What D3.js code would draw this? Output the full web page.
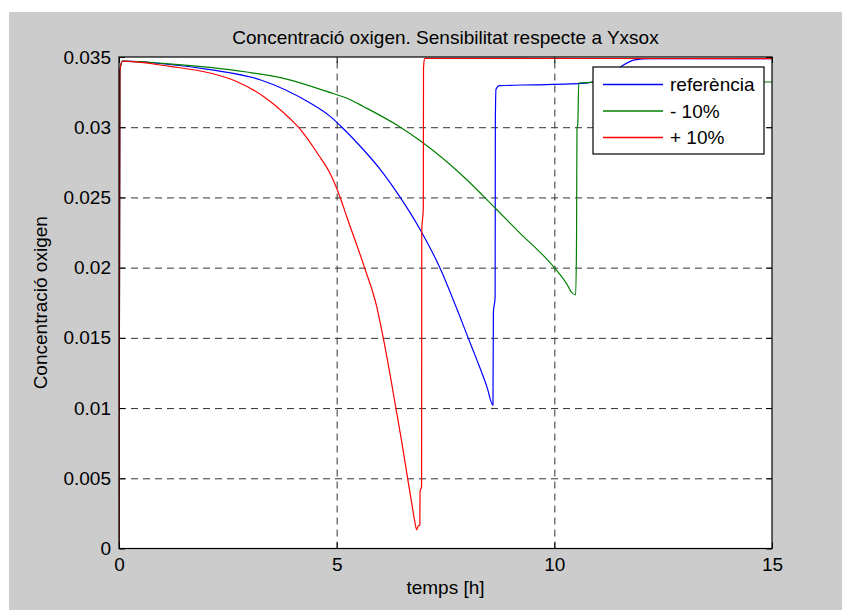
<!DOCTYPE html>
<html>
<head>
<meta charset="utf-8">
<script src="https://cdn.jsdelivr.net/npm/d3@7"></script>
<style>
  body { margin: 0; background: #fff; }
  svg { display: block; font-family: "Liberation Sans", Arial, sans-serif; }
</style>
</head>
<body>
<div class="chart"></div>
<script>
// series: time [h] and oxygen concentration
const refTime = [0, 0.02, 0.08, 1.0, 2.09, 3.24, 4.39, 4.85, 5.12, 5.6, 6.0, 6.46, 6.92, 7.37, 7.83, 8.02, 8.22, 8.45, 8.59, 8.6, 8.64, 8.645, 8.66, 8.74, 9.5, 10.36, 10.8, 11.0, 11.3, 11.57, 11.85, 12.2, 15]
const refConc = [0, 0.034, 0.0347, 0.03452, 0.0341, 0.03338, 0.03172, 0.03077, 0.0300, 0.02845, 0.0270, 0.0250, 0.0227, 0.0200, 0.01652, 0.0150, 0.01343, 0.01153, 0.0102, 0.0168, 0.0179, 0.0304, 0.0327, 0.03296, 0.03302, 0.03308, 0.03318, 0.0333, 0.0338, 0.0344, 0.0348, 0.03488, 0.03488]

const minusTime = [0, 0.02, 0.08, 1.0, 2.09, 2.93, 3.85, 4.77, 5.31, 5.61, 6.4, 6.99, 7.91, 8.68, 9.21, 10.0, 10.32, 10.38, 10.49, 10.51, 10.52, 10.54, 10.56, 10.85, 15]
const minusConc = [0, 0.034, 0.0347, 0.03455, 0.03426, 0.03393, 0.03343, 0.03255, 0.03196, 0.03148, 0.03012, 0.02887, 0.02649, 0.02412, 0.02246, 0.0200, 0.01866, 0.0183, 0.01806, 0.0220, 0.02982, 0.0303, 0.03315, 0.03319, 0.03322]

const plusTime = [0, 0.02, 0.08, 1.17, 2.09, 2.7, 3.32, 3.93, 4.12, 4.58, 4.85, 5.08, 5.23, 5.64, 5.92, 6.07, 6.26, 6.36, 6.5, 6.63, 6.72, 6.79, 6.84, 6.87, 6.91, 6.915, 6.95, 6.955, 6.99, 6.995, 7.02, 15]
const plusConc = [0, 0.034, 0.0347, 0.03433, 0.03386, 0.03326, 0.03219, 0.0306, 0.0300, 0.02804, 0.0267, 0.0250, 0.02364, 0.0200, 0.01723, 0.0150, 0.0118, 0.0100, 0.0075, 0.0050, 0.0033, 0.0020, 0.00132, 0.0016, 0.00167, 0.00405, 0.0044, 0.0227, 0.0242, 0.0342, 0.0349, 0.03488]

const seriesNames = ['referència', '- 10%', '+ 10%']
const seriesColors = ['#0000ff', '#008000', '#ff0000']

const xTicks = [0, 5, 10, 15]
const yTicks = [0, 0.005, 0.01, 0.015, 0.02, 0.025, 0.03, 0.035]
const yTickLabels = ['0', '0.005', '0.01', '0.015', '0.02', '0.025', '0.03', '0.035']

const titleText = 'Concentració oxigen. Sensibilitat respecte a Yxsox'
const xLabel = 'temps [h]'
const yLabel = 'Concentració oxigen'

const drawChart = () => {
    const dims = { width: 842, height: 610 }
    const box = { left: 119, right: 772, top: 57, bottom: 548.5 }
    const fontSize = 19

    const svg = d3.select('.chart')
        .append('svg')
        .attr('width', dims.width)
        .attr('height', dims.height)

    // grey figure background
    svg.append('rect')
        .attr('x', 9).attr('y', 12)
        .attr('width', dims.width - 9).attr('height', dims.height - 12)
        .attr('fill', '#cccccc')

    svg.append('rect')
        .attr('x', box.left).attr('y', box.top)
        .attr('width', box.right - box.left).attr('height', box.bottom - box.top)
        .attr('fill', '#fff')

    const x = d3.scaleLinear().domain([0, 15]).range([box.left, box.right])
    const y = d3.scaleLinear().domain([0, 0.035]).range([box.bottom, box.top])

    // dashed grid
    const grid = svg.append('g').attr('class', 'grid')
    grid.append('g')
        .attr('transform', `translate(0, ${box.bottom})`)
        .call(d3.axisBottom(x).tickValues(xTicks.slice(1, -1)).tickSize(-(box.bottom - box.top)).tickFormat(''))
    grid.append('g')
        .attr('transform', `translate(${box.left}, 0)`)
        .call(d3.axisLeft(y).tickValues(yTicks.slice(1, -1)).tickSize(-(box.right - box.left)).tickFormat(''))
    grid.selectAll('.domain').remove()
    grid.selectAll('line')
        .attr('stroke', '#333')
        .attr('stroke-width', 1)
        .attr('stroke-dasharray', '7,5')

    // curves
    svg.append('clipPath').attr('id', 'plot-clip')
        .append('rect')
        .attr('x', box.left).attr('y', box.top)
        .attr('width', box.right - box.left).attr('height', box.bottom - box.top)

    const line = d3.line()
        .curve(d3.curveMonotoneX)
        .x(d => x(d[0]))
        .y(d => y(d[1]))

    const series = [
        d3.zip(refTime, refConc),
        d3.zip(minusTime, minusConc),
        d3.zip(plusTime, plusConc)
    ]

    svg.append('g')
        .attr('clip-path', 'url(#plot-clip)')
        .selectAll('path')
        .data(series)
        .enter()
        .append('path')
        .attr('d', line)
        .attr('fill', 'none')
        .attr('stroke', (d, i) => seriesColors[i])
        .attr('stroke-width', 1.2)
        .attr('stroke-linejoin', 'round')

    // axes, ticks pointing inwards like matlab
    const xAxis = svg.append('g')
        .attr('transform', `translate(0, ${box.bottom})`)
        .call(d3.axisBottom(x).tickValues(xTicks).tickSizeInner(-6).tickSizeOuter(0).tickPadding(9))
    const yAxis = svg.append('g')
        .attr('transform', `translate(${box.left}, 0)`)
        .call(d3.axisLeft(y).tickValues(yTicks).tickSizeInner(-6).tickSizeOuter(0).tickPadding(8)
            .tickFormat((d, i) => yTickLabels[i]))
    const topAxis = svg.append('g')
        .attr('transform', `translate(0, ${box.top})`)
        .call(d3.axisTop(x).tickValues(xTicks).tickSizeInner(-6).tickSizeOuter(0).tickFormat(''))
    const rightAxis = svg.append('g')
        .attr('transform', `translate(${box.right}, 0)`)
        .call(d3.axisRight(y).tickValues(yTicks).tickSizeInner(-6).tickSizeOuter(0).tickFormat(''))

    ;[xAxis, yAxis, topAxis, rightAxis].forEach(a => {
        a.select('.domain').remove()
        a.selectAll('line').attr('stroke', '#000')
        a.selectAll('text')
            .attr('fill', '#000')
            .style('font-size', fontSize + 'px')
            .style('font-family', '"Liberation Sans", Arial, sans-serif')
    })

    svg.append('rect')
        .attr('x', box.left).attr('y', box.top)
        .attr('width', box.right - box.left).attr('height', box.bottom - box.top)
        .attr('fill', 'none')
        .attr('stroke', '#000')
        .attr('stroke-width', 1.2)

    // labels
    svg.append('text')
        .attr('x', (box.left + box.right) / 2)
        .attr('y', 44)
        .attr('text-anchor', 'middle')
        .style('font-size', fontSize + 'px')
        .text(titleText)

    svg.append('text')
        .attr('x', (box.left + box.right) / 2)
        .attr('y', 594)
        .attr('text-anchor', 'middle')
        .style('font-size', fontSize + 'px')
        .text(xLabel)

    svg.append('text')
        .attr('transform', `translate(47, ${(box.top + box.bottom) / 2}) rotate(-90)`)
        .attr('text-anchor', 'middle')
        .style('font-size', fontSize + 'px')
        .text(yLabel)

    // legend
    const legend = svg.append('g').attr('transform', 'translate(593, 67)')
    legend.append('rect')
        .attr('width', 171).attr('height', 87)
        .attr('fill', '#fff')
        .attr('stroke', '#000')
        .attr('stroke-width', 1.2)

    const rows = legend.selectAll('.row')
        .data(seriesNames.map((name, i) => ({ name, color: seriesColors[i] })))
        .enter()
        .append('g')
        .attr('class', 'row')
        .attr('transform', (d, i) => `translate(0, ${17.5 + i * 26.5})`)

    rows.append('line')
        .attr('x1', 10).attr('x2', 70)
        .attr('stroke', d => d.color)
        .attr('stroke-width', 1.3)

    rows.append('text')
        .attr('x', 77)
        .attr('dy', '0.35em')
        .style('font-size', fontSize + 'px')
        .text(d => d.name)
}

drawChart()
</script>
</body>
</html>
